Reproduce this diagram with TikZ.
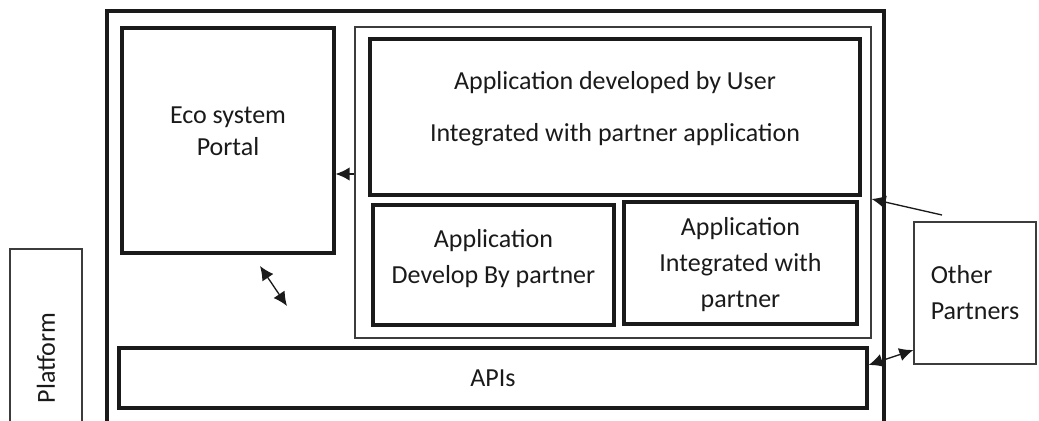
\documentclass[tikz,border=0pt]{standalone}
\usepackage{fontspec}
\setmainfont{Carlito}
\usetikzlibrary{arrows.meta}
\definecolor{ink}{HTML}{1A1A1A}
\definecolor{edge}{HTML}{3C3C3C}
\tikzset{
  box/.style  ={draw=ink, line width=2.4pt, align=center, inner sep=0pt, text=ink,
                font=\fontsize{19.5}{27}\selectfont},
  thin/.style ={box, line width=1pt, draw=edge},
  lbl/.style  ={text=ink, align=center, font=\fontsize{19.5}{27}\selectfont},
  flow/.style ={-{Latex[length=10.5pt,width=10pt]}, line width=1pt, draw=ink},
  flowt/.style={{Latex[length=10.5pt,width=10pt]}-{Latex[length=10.5pt,width=10pt]}, line width=1pt, draw=ink},
}
\begin{document}
\begin{tikzpicture}[x=0.75pt, y=-0.75pt]
  \useasboundingbox (0,0) rectangle (1039,421);
  \clip (0,0) rectangle (1039,421);
  % frames
  \node[box, line width=2.4pt, minimum width=777*0.75pt, minimum height=429*0.75pt](outer) at (495.5,225.5){};
  \node[thin, minimum width=72*0.75pt, minimum height=218*0.75pt](platform) at (46,358){\rotatebox{90}{Platform}};
  \node[box, minimum width=212*0.75pt, minimum height=225*0.75pt,
        label={[lbl, yshift=7pt]center:Eco system\\[-3pt]Portal}](eco) at (228,140.5){};
  \node[thin, minimum width=516*0.75pt, minimum height=311*0.75pt](apps) at (613,182.5){};
  % applications
  \node[box, minimum width=490*0.75pt, minimum height=156*0.75pt,
        label={[lbl, yshift=6pt]center:Application developed by User\\[12pt]Integrated with partner application}](userapp) at (615,117){};
  \node[box, minimum width=241*0.75pt, minimum height=120*0.75pt,
        label={[lbl, yshift=5pt]center:Application\\Develop By partner}](devapp) at (493.5,265){};
  \node[box, minimum width=233*0.75pt, minimum height=122*0.75pt,
        label={[lbl, yshift=-1pt]center:Application\\Integrated with\\partner}](intapp) at (740.5,263){};
  \node[box, minimum width=748*0.75pt, minimum height=60*0.75pt](apis) at (493,378){APIs};
  \node[thin, minimum width=122*0.75pt, minimum height=142*0.75pt, align=left](partners) at (975,293){Other\\Partners};
  % connectors
  \coordinate (ptail) at (942,215);
  \coordinate (ecoend) at (260,266);
  \coordinate (apiend) at (287,306);
  \draw[flow](apps.west |- 0,174) -- (eco.east |- 0,174);
  \draw[flow](ptail) -- (apps.east |- 0,199);
  \draw[flowt](partners.west |- 0,350) -- (apis.east |- 0,365);
  \draw[flowt](ecoend) -- (apiend);
\end{tikzpicture}
\end{document}
